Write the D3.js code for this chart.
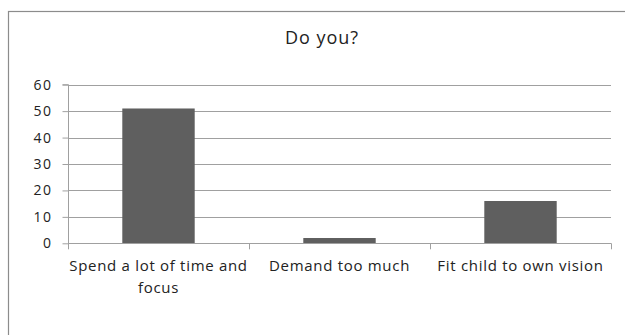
<!DOCTYPE html>
<html>
<head>
<meta charset="utf-8">
<script src="https://cdn.jsdelivr.net/npm/d3@7"></script>
<style>
  html, body { margin: 0; padding: 0; background: #fff; }
  svg { display: block; }
  text { font-family: "Open Sans", "DejaVu Sans", sans-serif; fill: #222; }
</style>
</head>
<body>
<svg id="chart" width="625" height="335"></svg>
<script>
// Survey answers
const title = "Do you?";
const categories = [["Spend a lot of time and", "focus"], ["Demand too much"], ["Fit child to own vision"]];
const values = [51, 2, 16];
const yTicks = [0, 10, 20, 30, 40, 50, 60];

const svg = d3.select("#chart");
const W = 625, H = 335;
const plotLeft = 68, plotRight = 611, plotTop = 84.7, plotBottom = 243.3;

// chart frame (runs off the right and bottom edges)
svg.append("rect")
  .attr("x", 8.5).attr("y", 11.5)
  .attr("width", W + 10).attr("height", H + 10)
  .attr("fill", "#fff").attr("stroke", "#8c8c8c").attr("stroke-width", 1.2);

svg.append("text")
  .attr("x", 322).attr("y", 43.5)
  .attr("text-anchor", "middle")
  .style("font-size", "18px")
  .style("letter-spacing", "1px")
  .text(title);

const x = d3.scaleBand()
  .domain(d3.range(categories.length))
  .range([plotLeft, plotRight])
  .paddingInner(0.6)
  .paddingOuter(0.3);

const y = d3.scaleLinear().domain([0, 60]).range([plotBottom, plotTop]);

// horizontal gridlines
svg.append("g").selectAll("line")
  .data(yTicks.filter(d => d > 0))
  .join("line")
  .attr("x1", plotLeft).attr("x2", plotRight)
  .attr("y1", d => Math.round(y(d)) + 0.5).attr("y2", d => Math.round(y(d)) + 0.5)
  .attr("stroke", "#a0a0a0").attr("stroke-width", 1.2);

// bars
svg.append("g").selectAll("rect")
  .data(values)
  .join("rect")
  .attr("x", (d, i) => x(i))
  .attr("width", x.bandwidth())
  .attr("y", d => y(d))
  .attr("height", d => y(0) - y(d))
  .attr("fill", "#5f5f5f");

// y axis
const yAxis = d3.axisLeft(y).tickValues(yTicks).tickSize(6).tickPadding(10);
const gy = svg.append("g").attr("transform", `translate(${plotLeft + 0.5},0)`).call(yAxis);
gy.select(".domain").attr("stroke", "#a0a0a0").attr("d", `M-6,${plotTop}H0V${plotBottom}`);
gy.selectAll(".tick line").attr("stroke", "#a0a0a0");
gy.selectAll(".tick text")
  .style("font-size", "14px").style("letter-spacing", "1.5px")
  .attr("fill", "#222");

// x axis with tick marks at category boundaries
const boundaries = d3.range(categories.length + 1).map(i => plotLeft + i * (plotRight - plotLeft) / categories.length);
const gx = svg.append("g");
gx.append("line")
  .attr("x1", plotLeft).attr("x2", plotRight)
  .attr("y1", Math.round(plotBottom) + 0.5).attr("y2", Math.round(plotBottom) + 0.5)
  .attr("stroke", "#a0a0a0").attr("stroke-width", 1.2);
gx.selectAll("line.tk")
  .data(boundaries)
  .join("line").attr("class", "tk")
  .attr("x1", d => Math.round(d) + 0.5).attr("x2", d => Math.round(d) + 0.5)
  .attr("y1", plotBottom).attr("y2", plotBottom + 6)
  .attr("stroke", "#a0a0a0");

const labels = gx.selectAll("text.cat")
  .data(categories)
  .join("text").attr("class", "cat")
  .attr("text-anchor", "middle")
  .style("font-size", "15px")
  .style("letter-spacing", "0.7px")
  .attr("transform", (d, i) => `translate(${x(i) + x.bandwidth() / 2},271)`);
labels.selectAll("tspan")
  .data(d => d)
  .join("tspan")
  .attr("x", 0)
  .attr("y", (d, j) => j * 22)
  .text(d => d);
</script>
</body>
</html>
